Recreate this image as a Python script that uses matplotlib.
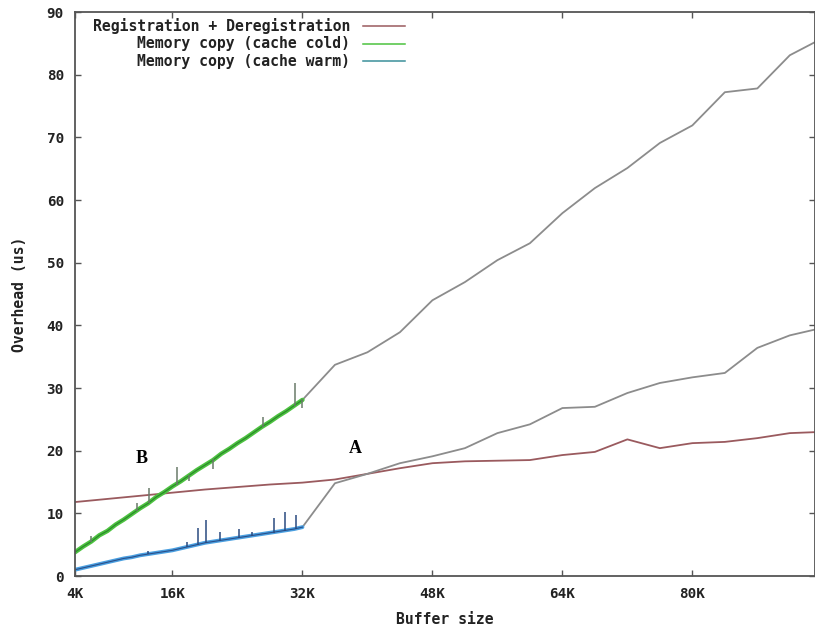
import matplotlib
matplotlib.use("Agg")
import matplotlib.pyplot as plt

# buffer size in K, overhead in us
cold_x = list(range(4, 33))
cold_y = [3.8, 4.7, 5.5, 6.5, 7.2, 8.2, 9.0, 9.9, 10.8, 11.6, 12.6, 13.4, 14.3, 15.1, 16.0,
          16.9, 17.7, 18.5, 19.5, 20.3, 21.2, 22.0, 22.9, 23.8, 24.6, 25.5, 26.3, 27.2, 28.1]
cold_spike_x = [6.0, 11.6, 13.1, 16.5, 18.0, 21.0, 27.1, 31.1, 32.0]
cold_spike_lo = [5.4, 10.3, 11.7, 14.6, 15.2, 17.0, 23.7, 27.2, 26.8]
cold_spike_hi = [6.4, 11.7, 14.0, 17.4, 16.1, 18.6, 25.4, 30.8, 28.3]

warm_x = list(range(4, 33))
warm_y = [1.0, 1.3, 1.6, 1.9, 2.2, 2.5, 2.8, 3.0, 3.3, 3.5, 3.7, 3.9, 4.1, 4.4, 4.7,
          5.0, 5.3, 5.5, 5.7, 5.9, 6.1, 6.3, 6.5, 6.7, 6.9, 7.1, 7.3, 7.5, 7.8]
warm_spike_x = [13.0, 17.8, 19.1, 20.1, 21.8, 24.2, 25.8, 28.5, 29.8, 31.2]
warm_spike_lo = [3.5, 4.7, 5.0, 5.2, 5.6, 6.1, 6.4, 6.9, 7.2, 7.5]
warm_spike_hi = [4.0, 5.5, 7.7, 8.9, 7.0, 7.5, 7.0, 9.2, 10.2, 9.7]

# tails after 32K (gray part of the plot)
tail_x = [32, 36, 40, 44, 48, 52, 56, 60, 64, 68, 72, 76, 80, 84, 88, 92, 96]
cold_tail = [28.1, 33.7, 35.7, 38.9, 44.0, 46.9, 50.4, 53.1, 57.9, 61.9, 65.1, 69.1,
             71.9, 77.2, 77.8, 83.1, 85.8]
warm_tail = [7.8, 14.8, 16.3, 18.0, 19.1, 20.4, 22.8, 24.2, 26.8, 27.0, 29.2, 30.8,
             31.7, 32.4, 36.4, 38.4, 39.6]

reg_x = [4, 8, 12, 16, 20, 24, 28, 32, 36, 40, 44, 48, 52, 56, 60, 64, 68, 72, 76, 80,
         84, 88, 92, 96]
reg_y = [11.8, 12.3, 12.8, 13.3, 13.8, 14.2, 14.6, 14.9, 15.4, 16.3, 17.2, 18.0, 18.3,
         18.4, 18.5, 19.3, 19.8, 21.8, 20.4, 21.2, 21.4, 22.0, 22.8, 23.0]

x_ticks = [4, 16, 32, 48, 64, 80]
x_labels = ["4K", "16K", "32K", "48K", "64K", "80K"]
y_ticks = list(range(0, 91, 10))

legend_labels = ["Registration + Deregistration", "Memory copy (cache cold)",
                 "Memory copy (cache warm)"]

RED = "#9a5a5e"
GREEN = "#4cc23f"
BLUE = "#4a9fe0"
GRAY = "#8c8c8c"
mono = dict(family="DejaVu Sans Mono", weight="bold", size=10.6, color="#222222")

fig = plt.figure(figsize=(8.15, 6.27), dpi=100)
ax = fig.add_axes([75 / 815, 1 - 576 / 627, 740 / 815, 564 / 627])

ax.plot(reg_x, reg_y, color=RED, lw=1.3)
ax.plot(tail_x, cold_tail, color=GRAY, lw=1.3)
ax.plot(tail_x, warm_tail, color=GRAY, lw=1.3)

ax.plot(cold_x, cold_y, color=GREEN, lw=3.2, solid_capstyle="round")
ax.plot(cold_x, cold_y, color="#2c8a2c", lw=0.9)
ax.vlines(cold_spike_x, cold_spike_lo, cold_spike_hi, color="#6a7a6a", lw=1.1)

ax.plot(warm_x, warm_y, color=BLUE, lw=2.8, solid_capstyle="round")
ax.plot(warm_x, warm_y, color="#2a4f8a", lw=0.8)
ax.vlines(warm_spike_x, warm_spike_lo, warm_spike_hi, color="#2a4a80", lw=1.1)

ax.text(38.5, 20.4, "A", family="Liberation Serif", weight="bold", size=13,
        ha="center", va="center")
ax.text(12.2, 18.8, "B", family="Liberation Serif", weight="bold", size=13,
        ha="center", va="center")

# gnuplot style key: text right aligned, sample line after it
for i, (lab, col) in enumerate(zip(legend_labels, [RED, GREEN, "#3a8f9a"])):
    yy = 0.975 - i * 0.031
    ax.text(0.372, yy, lab, transform=ax.transAxes, ha="right", va="center", **mono)
    ax.plot([0.389, 0.446], [yy, yy], transform=ax.transAxes, color=col, lw=1.1)

ax.set_xlim(4, 95.1)
ax.set_ylim(0, 90)
ax.set_xticks(x_ticks)
ax.set_xticklabels(x_labels)
ax.set_yticks(y_ticks)
ax.tick_params(direction="in", length=4, width=1, color="#555555", top=True, right=True,
               pad=8)
for lab in ax.get_xticklabels() + ax.get_yticklabels():
    lab.set_fontfamily("DejaVu Sans Mono")
    lab.set_fontweight("bold")
    lab.set_fontsize(10.3)
    lab.set_color("#222222")
for s in ax.spines.values():
    s.set_color("#555555")
    s.set_linewidth(1.3)

ax.set_xlabel("Buffer size", labelpad=8, **mono)
ax.set_ylabel("Overhead (us)", labelpad=14, **mono)

fig.savefig("out.png", dpi=100)
